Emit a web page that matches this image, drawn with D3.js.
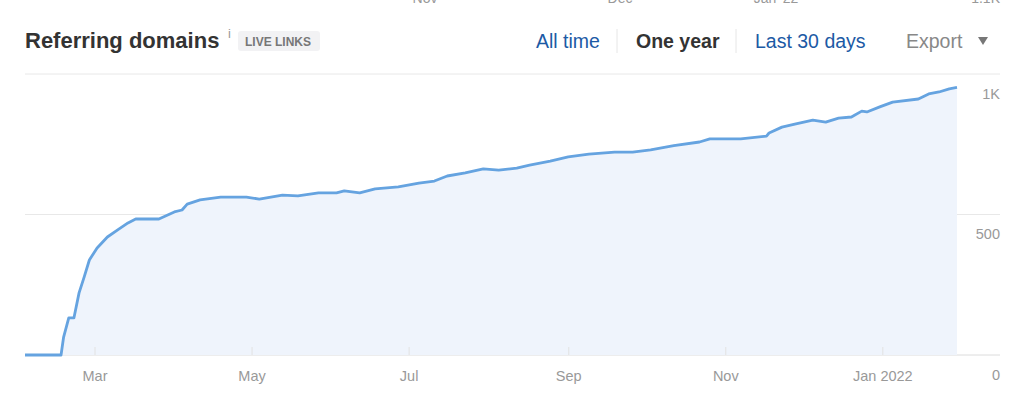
<!DOCTYPE html>
<html>
<head>
<meta charset="utf-8">
<title>Referring domains</title>
<script src="https://cdn.jsdelivr.net/npm/d3@7"></script>
<style>
  body { margin: 0; background: #fff; font-family: "Liberation Sans", Arial, sans-serif; }
  svg { display: block; }
</style>
</head>
<body>
<svg width="1024" height="396"></svg>
<script>

// data (one year of referring domains)
const dates = [
  "2021-02-02","2021-02-16","2021-02-17","2021-02-19","2021-02-21","2021-02-23","2021-02-25","2021-02-27",
  "2021-03-02","2021-03-06","2021-03-10","2021-03-14","2021-03-17","2021-03-26","2021-04-01","2021-04-04",
  "2021-04-06","2021-04-11","2021-04-19","2021-04-29","2021-05-04","2021-05-13","2021-05-19","2021-05-27",
  "2021-06-03","2021-06-06","2021-06-12","2021-06-18","2021-06-27","2021-07-05","2021-07-11","2021-07-16",
  "2021-07-23","2021-07-30","2021-08-05","2021-08-12","2021-08-17","2021-08-25","2021-09-01","2021-09-09",
  "2021-09-19","2021-09-26","2021-10-03","2021-10-12","2021-10-22","2021-10-26","2021-11-07","2021-11-17",
  "2021-11-18","2021-11-23","2021-11-28","2021-12-05","2021-12-10","2021-12-15","2021-12-20","2021-12-24",
  "2021-12-26","2021-12-31","2022-01-05","2022-01-15","2022-01-19","2022-01-23","2022-01-27","2022-01-30"
];
const domains = [
  0, 0, 64, 132, 132, 221, 278, 338,
  381, 420, 445, 470, 484, 484, 509, 516,
  537, 552, 562, 562, 555, 569, 566, 577,
  577, 584, 577, 591, 598, 612, 619, 637,
  648, 662, 658, 665, 676, 690, 705, 715,
  722, 722, 730, 745, 758, 769, 769, 779,
  790, 811, 822, 836, 829, 843, 847, 868,
  865, 883, 900, 911, 929, 936, 947, 952
];

const xTicks = ["2021-03-01","2021-05-01","2021-07-01","2021-09-01","2021-11-01","2022-01-01"];
const xTickLabels = ["Mar","May","Jul","Sep","Nov","Jan 2022"];
const yTicks = [0, 500, 1000];
const yTickLabels = ["0", "500", "1K"];

// leftover labels of the chart above, cut by the top edge
const prevLabels = ["Nov", "Dec", "Jan '22", "1.1K"];
const prevLabelX = [425, 620, 776, 1000];

const parse = d3.timeParse("%Y-%m-%d");
const data = dates.map((d, i) => ({ date: parse(d), value: domains[i] }));

const svg = d3.select("svg");
const plotLeft = 25, plotRight = 957, axisRight = 1000;
const plotTop = 74, plotBottom = 355;

const x = d3.scaleTime()
  .domain([parse("2021-02-02"), parse("2022-01-30")])
  .range([plotLeft, plotRight]);

const y = d3.scaleLinear()
  .domain([0, 1000])
  .range([plotBottom, plotTop]);

// cut-off labels at the top
svg.append("g").selectAll("text")
  .data(prevLabels)
  .join("text")
    .attr("x", (d, i) => prevLabelX[i])
    .attr("y", 3)
    .attr("text-anchor", (d, i) => i === 3 ? "end" : "middle")
    .attr("font-size", 14)
    .attr("fill", "#999")
    .text(d => d);

// header
const header = svg.append("g");
header.append("text")
  .attr("x", 25).attr("y", 48)
  .attr("font-size", 22).attr("font-weight", "bold")
  .attr("fill", "#333")
  .text("Referring domains");
header.append("text")
  .attr("x", 228).attr("y", 38)
  .attr("font-size", 13).attr("fill", "#999")
  .text("i");
header.append("rect")
  .attr("x", 238).attr("y", 31).attr("width", 82).attr("height", 20)
  .attr("rx", 3).attr("fill", "#f2f2f4");
header.append("text")
  .attr("x", 245).attr("y", 46)
  .attr("font-size", 12).attr("font-weight", "bold").attr("fill", "#777")
  .text("LIVE LINKS");

const tabs = [
  { label: "All time", x: 536, color: "#1c5aa5", weight: "normal" },
  { label: "One year", x: 636, color: "#333", weight: "bold" },
  { label: "Last 30 days", x: 755, color: "#1c5aa5", weight: "normal" },
  { label: "Export", x: 906, color: "#888", weight: "normal" }
];
header.selectAll(".tab")
  .data(tabs)
  .join("text")
    .attr("class", "tab")
    .attr("x", d => d.x).attr("y", 48)
    .attr("font-size", 19.5)
    .attr("font-weight", d => d.weight)
    .attr("fill", d => d.color)
    .text(d => d.label);
header.selectAll(".sep")
  .data([617, 736])
  .join("line")
    .attr("class", "sep")
    .attr("x1", d => d).attr("x2", d => d)
    .attr("y1", 29).attr("y2", 53)
    .attr("stroke", "#e6e6e6");
header.append("path")
  .attr("d", "M978,37 L988,37 L983,45 Z")
  .attr("fill", "#777");

// grid
svg.append("g").selectAll("line")
  .data(yTicks)
  .join("line")
    .attr("x1", plotLeft).attr("x2", axisRight)
    .attr("y1", d => y(d)).attr("y2", d => y(d))
    .attr("stroke", d => d === 0 ? "#dcdcdc" : "#e8e8e8");

// area + line
svg.append("path")
  .datum(data)
  .attr("fill", "#eff4fc")
  .attr("d", d3.area().x(d => x(d.date)).y0(plotBottom).y1(d => y(d.value)));

svg.append("path")
  .datum(data)
  .attr("fill", "none")
  .attr("stroke", "#65a3e0")
  .attr("stroke-width", 2.8)
  .attr("stroke-linejoin", "round")
  .attr("d", d3.line().x(d => x(d.date)).y(d => y(d.value)));

// x axis
const xAxis = d3.axisBottom(x)
  .tickValues(xTicks.map(parse))
  .tickFormat((d, i) => xTickLabels[i])
  .tickSizeInner(-8)
  .tickSizeOuter(0)
  .tickPadding(16);
const xg = svg.append("g")
  .attr("transform", `translate(0,${plotBottom})`)
  .call(xAxis);
xg.select(".domain").remove();
xg.selectAll(".tick line").attr("stroke", "#e2e2e2");
xg.selectAll(".tick text")
  .attr("font-family", "Liberation Sans, Arial, sans-serif")
  .attr("font-size", 14.5).attr("fill", "#999");

// y axis labels, sitting under their grid lines
const yAxis = d3.axisLeft(y)
  .tickValues(yTicks)
  .tickFormat((d, i) => yTickLabels[i])
  .tickSize(0)
  .tickPadding(0);
const yg = svg.append("g")
  .attr("transform", `translate(${axisRight},0)`)
  .call(yAxis);
yg.select(".domain").remove();
yg.selectAll(".tick text")
  .attr("dy", 24)
  .attr("font-family", "Liberation Sans, Arial, sans-serif")
  .attr("font-size", 14.5).attr("fill", "#999");

</script>
</body>
</html>
